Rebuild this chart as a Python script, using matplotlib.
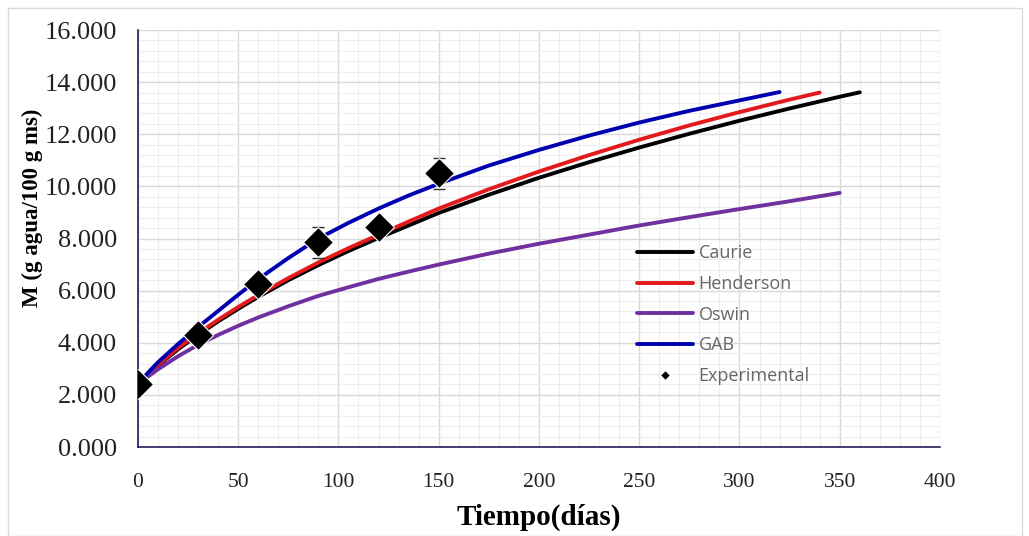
import matplotlib.pyplot as plt
from matplotlib.patches import Rectangle
from matplotlib.ticker import MultipleLocator, FormatStrFormatter

# datos
t_caurie = [0, 5, 10, 20, 30, 40, 50, 60, 75, 90, 105, 120, 135, 150,
            175, 200, 225, 250, 275, 300, 325, 350, 360]
m_caurie = [2.4, 2.78, 3.12, 3.75, 4.3, 4.82, 5.3, 5.76, 6.4, 6.98, 7.52, 8.02, 8.5, 8.98,
            9.68, 10.33, 10.93, 11.49, 12.02, 12.52, 12.99, 13.44, 13.61]

t_hend = [0, 5, 10, 20, 30, 40, 50, 60, 75, 90, 105, 120, 135, 150,
          175, 200, 225, 250, 275, 300, 325, 340]
m_hend = [2.4, 2.8, 3.15, 3.8, 4.36, 4.88, 5.37, 5.83, 6.48, 7.08, 7.63, 8.14, 8.65, 9.15,
          9.89, 10.57, 11.2, 11.79, 12.34, 12.85, 13.33, 13.6]

t_oswin = [0, 5, 10, 20, 30, 40, 50, 60, 75, 90, 105, 120, 135, 150,
           175, 200, 225, 250, 275, 300, 325, 350]
m_oswin = [2.4, 2.7, 2.98, 3.48, 3.92, 4.3, 4.65, 4.97, 5.4, 5.8, 6.13, 6.45, 6.73, 7.0,
           7.42, 7.8, 8.15, 8.5, 8.82, 9.13, 9.43, 9.75]

t_gab = [0, 5, 10, 20, 30, 40, 50, 60, 75, 90, 105, 120, 135, 150,
         175, 200, 225, 250, 275, 300, 320]
m_gab = [2.4, 2.85, 3.25, 3.95, 4.6, 5.22, 5.84, 6.44, 7.25, 8.0, 8.6, 9.15, 9.65, 10.1,
         10.8, 11.4, 11.95, 12.45, 12.9, 13.3, 13.62]

t_exp = [0, 30, 60, 90, 120, 150]
m_exp = [2.4, 4.3, 6.25, 7.85, 8.45, 10.5]
err_exp = [0.2, 0.2, 0.2, 0.6, 0.3, 0.6]

fig = plt.figure(figsize=(10.29, 5.36), dpi=100)
fig.patches.append(Rectangle((0.008, 0.0), 0.985, 0.985, transform=fig.transFigure,
                             fill=False, ec='#d9d9d9', lw=1))
ax = fig.add_axes([0.134, 0.166, 0.7795, 0.778])

ax.plot(t_caurie, m_caurie, color='black', lw=2.8, label='Caurie', solid_capstyle='round')
ax.plot(t_hend, m_hend, color='#e31a1c', lw=2.8, label='Henderson', solid_capstyle='round')
ax.plot(t_oswin, m_oswin, color='#7030a0', lw=2.8, label='Oswin', solid_capstyle='round')
ax.plot(t_gab, m_gab, color='#0000b0', lw=2.8, label='GAB', solid_capstyle='round')
ax.errorbar(t_exp, m_exp, yerr=err_exp, fmt='none', ecolor='#333333', elinewidth=1,
            capsize=4, zorder=4)
ax.plot(t_exp, m_exp, 'D', color='black', ms=15, mec='white', mew=0.8,
        label='Experimental', zorder=5)

ax.set_xlim(0, 400)
ax.set_ylim(0, 16)
ax.xaxis.set_major_locator(MultipleLocator(50))
ax.xaxis.set_minor_locator(MultipleLocator(10))
ax.yaxis.set_major_locator(MultipleLocator(2))
ax.yaxis.set_minor_locator(MultipleLocator(0.4))
ax.yaxis.set_major_formatter(FormatStrFormatter('%.3f'))
ax.grid(which='major', color='#d9d9d9', lw=1)
ax.grid(which='minor', color='#ededed', lw=0.8)
ax.set_axisbelow(True)

for s in ['top', 'right']:
    ax.spines[s].set_visible(False)
for s in ['left', 'bottom']:
    ax.spines[s].set_color('#1f1f5f')
    ax.spines[s].set_linewidth(1.2)

ax.tick_params(which='both', length=0)
ax.tick_params(axis='y', pad=15, labelsize=19, labelcolor='#222222')
ax.tick_params(axis='x', pad=19, labelsize=15.5, labelcolor='#222222')
for lab in ax.get_xticklabels() + ax.get_yticklabels():
    lab.set_fontfamily('Liberation Serif')

ax.set_ylabel('M (g agua/100 g ms)', fontfamily='Liberation Serif', fontweight='bold',
              fontsize=16.5)
ax.yaxis.set_label_coords(-0.118, 0.573)
ax.set_xlabel('Tiempo(días)', fontfamily='Liberation Serif', fontweight='bold',
              fontsize=21, labelpad=8)

leg = ax.legend(loc='upper left', bbox_to_anchor=(0.602, 0.525), frameon=False,
                prop={'family': 'Open Sans', 'size': 13}, labelcolor='#666666',
                handlelength=3.1, handletextpad=0.3, labelspacing=0.7, markerscale=0.35)

plt.savefig('out.png', dpi=100)
